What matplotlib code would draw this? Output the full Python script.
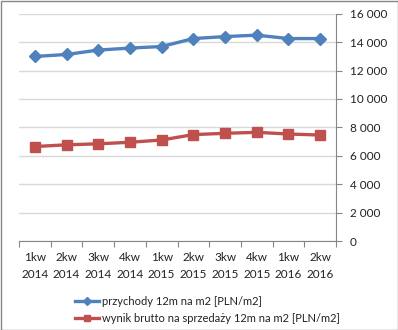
import matplotlib.pyplot as plt
from matplotlib.ticker import FuncFormatter, FixedLocator
from matplotlib.patches import Rectangle

# ---------- DATA ----------
quarters = ["1kw\n2014", "2kw\n2014", "3kw\n2014", "4kw\n2014", "1kw\n2015",
            "2kw\n2015", "3kw\n2015", "4kw\n2015", "1kw\n2016", "2kw\n2016"]
przychody = [12990, 13130, 13440, 13580, 13690, 14250, 14390, 14490, 14250, 14250]
wynik = [6650, 6770, 6840, 6950, 7110, 7490, 7580, 7650, 7530, 7460]
label_przychody = "przychody 12m na m2 [PLN/m2]"
label_wynik = "wynik brutto na sprzedaży 12m na m2 [PLN/m2]"
# --------------------------

plt.rcParams['font.family'] = ['Lato', 'DejaVu Sans']

W, H = 398, 330
fig = plt.figure(figsize=(W / 100, H / 100), dpi=100)
ax = fig.add_axes([19 / W, (H - 241) / H, (336 - 19) / W, (241 - 13.7) / H])

x = list(range(len(quarters)))
ax.plot(x, przychody, color="#4F81BD", lw=2.4, marker="D", ms=6.5,
        label=label_przychody)
ax.plot(x, wynik, color="#C0504D", lw=2.4, marker="s", ms=6.5,
        label=label_wynik)

ax.set_xlim(-0.5, len(quarters) - 0.5)
ax.set_ylim(0, 16000)
ax.set_yticks(range(0, 16001, 2000))
ax.yaxis.set_major_formatter(FuncFormatter(lambda v, p: f"{int(v):,}".replace(",", " ")))
ax.yaxis.tick_right()
ax.grid(axis="y", color="#d9d9d9", lw=1)
ax.set_axisbelow(True)

ax.xaxis.set_major_locator(FixedLocator([i - 0.5 for i in range(len(quarters) + 1)]))
ax.set_xticklabels([])
ax.set_xticks(x, minor=True)
ax.set_xticklabels(quarters, minor=True, linespacing=1.6)
ax.tick_params(axis="x", which="minor", length=0, pad=8, labelsize=8.5, colors="#222222")
ax.tick_params(axis="x", which="major", length=4, color="#868686")
ax.tick_params(axis="y", length=4, color="#868686", labelsize=8.5, labelcolor="#222222", pad=6)

for s in ["top", "left"]:
    ax.spines[s].set_visible(False)
for s in ["bottom", "right"]:
    ax.spines[s].set_color("#868686")

fig.legend(loc="upper left", bbox_to_anchor=(69 / W, 1 - 290 / H), frameon=False,
           fontsize=8, handlelength=2.2, handletextpad=0.3, labelspacing=0.6,
           borderpad=0, labelcolor="#222222", markerscale=0.6)

fig.patches.append(Rectangle((0.5 / W, 0.5 / H), 1 - 1 / W, 1 - 1 / H,
                             transform=fig.transFigure, fill=False,
                             edgecolor="#868686", lw=1))

fig.savefig("out.png", dpi=100)
